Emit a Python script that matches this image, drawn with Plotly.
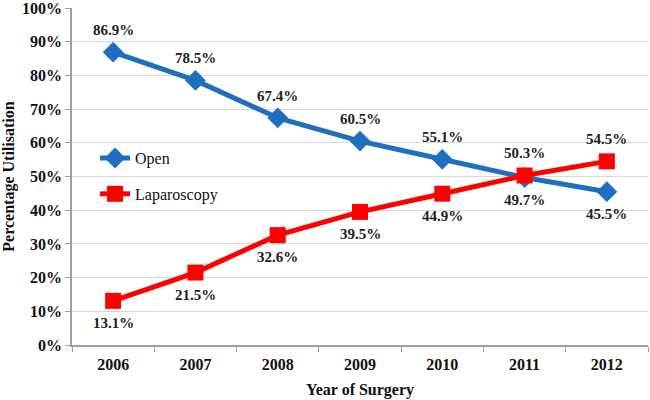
import plotly.graph_objects as go

years = ["2006", "2007", "2008", "2009", "2010", "2011", "2012"]
open_vals = [86.9, 78.5, 67.4, 60.5, 55.1, 49.7, 45.5]
lap_vals = [13.1, 21.5, 32.6, 39.5, 44.9, 50.3, 54.5]
open_label_side = [1, 1, 1, 1, 1, -1, -1]
lap_label_side = [-1, -1, -1, -1, -1, 1, 1]
y_ticks = [0, 10, 20, 30, 40, 50, 60, 70, 80, 90, 100]

BLUE = "#1F6FC1"
RED = "#FF0000"
FONT = "Liberation Serif"

fig = go.Figure()
fig.add_trace(go.Scatter(
    x=years, y=open_vals, name="Open", mode="lines+markers", legendgroup="a",
    line=dict(color=BLUE, width=5),
    marker=dict(symbol="diamond", size=16, color=BLUE),
))
fig.add_trace(go.Scatter(
    x=years, y=lap_vals, name="Laparoscopy", mode="lines+markers", legendgroup="b",
    line=dict(color=RED, width=5),
    marker=dict(symbol="square", size=16, color=RED),
))

anns = []
for i, (v, s) in enumerate(zip(open_vals, open_label_side)):
    anns.append(dict(x=i, y=v, xref="x", yref="y", text=f"{v:.1f}%", showarrow=False,
                     yshift=22 * s,
                     font=dict(family=FONT, size=15, color="#222222", weight="bold")))
for i, (v, s) in enumerate(zip(lap_vals, lap_label_side)):
    anns.append(dict(x=i, y=v, xref="x", yref="y", text=f"{v:.1f}%", showarrow=False,
                     yshift=22 * s,
                     font=dict(family=FONT, size=15, color="#222222", weight="bold")))

fig.update_layout(
    width=650, height=400,
    margin=dict(l=72, r=2, t=8, b=55),
    paper_bgcolor="white", plot_bgcolor="white",
    font=dict(family=FONT, color="#111111"),
    annotations=anns,
    showlegend=True,
    legend=dict(x=0.04, y=0.605, xanchor="left", yanchor="top",
                bgcolor="rgba(0,0,0,0)", font=dict(family=FONT, size=16, color="#111111"),
                itemwidth=30, tracegroupgap=12),
    xaxis=dict(
        type="category", range=[-0.5, 6.5], automargin=False,
        showline=True, linecolor="#A0A0A0", linewidth=1.5,
        ticks="outside", tickson="boundaries", ticklen=5, tickcolor="#A0A0A0",
        showgrid=False, ticklabelstandoff=4,
        tickfont=dict(family=FONT, size=16, color="#111111", weight="bold"),
        title=dict(text="Year of Surgery", standoff=12,
                   font=dict(family=FONT, size=16, color="#111111", weight="bold")),
    ),
    yaxis=dict(
        range=[0, 100], tickvals=y_ticks, ticktext=[f"{t}%" for t in y_ticks],
        automargin=False, ticklabeloverflow="allow",
        showline=True, linecolor="#A0A0A0", linewidth=1.5,
        ticks="outside", ticklen=5, tickcolor="#A0A0A0",
        showgrid=True, gridcolor="#D9D9D9", gridwidth=1,
        zeroline=False,
        tickfont=dict(family=FONT, size=16, color="#111111", weight="bold"),
        title=dict(text="Percentage Utilisation", standoff=7,
                   font=dict(family=FONT, size=16, color="#111111", weight="bold")),
    ),
)

fig.write_html("out.html", config={"displayModeBar": False},
               post_script="document.body.style.margin='0';")
